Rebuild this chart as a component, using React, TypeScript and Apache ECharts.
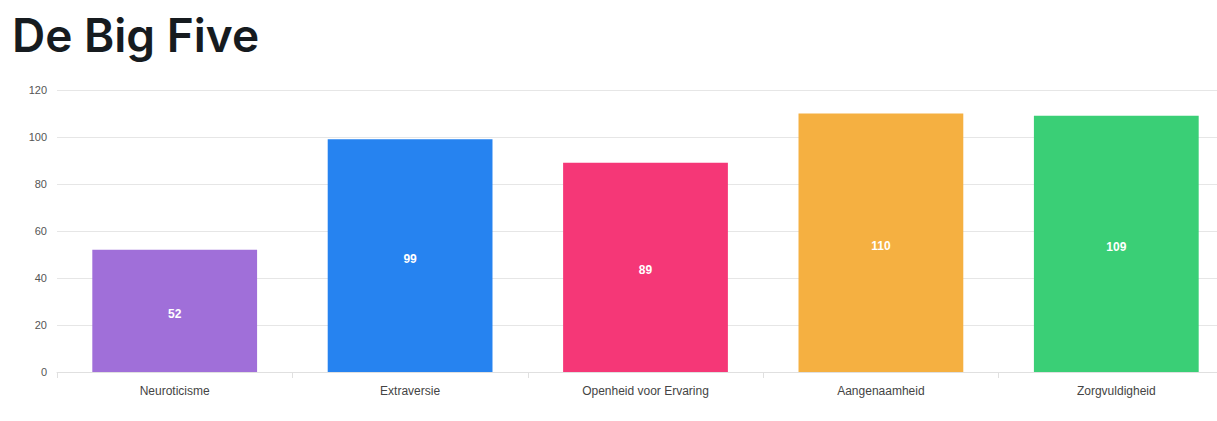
import React, { useEffect, useRef } from "react";
import * as echarts from "echarts";

const categories = ["Neuroticisme", "Extraversie", "Openheid voor Ervaring", "Aangenaamheid", "Zorgvuldigheid"];
const values = [52, 99, 89, 110, 109];
const barColors = ["#a06fd9", "#2683f0", "#f53777", "#f5b041", "#3acf76"];
const yTicks = { min: 0, max: 120, interval: 20 };
const titleText = "De Big Five";

export default function App() {
  const ref = useRef<HTMLDivElement>(null);
  useEffect(() => {
    if (!ref.current) return;
    const chart = echarts.init(ref.current, undefined, { renderer: "svg" });
    chart.setOption({
      animation: false,
      title: {
        text: titleText,
        left: 7,
        top: 7,
        textStyle: {
          fontFamily: "Inter",
          fontWeight: 600,
          fontSize: 46,
          color: "#161b1f",
        },
      },
      grid: { left: 57, right: 0, top: 90, bottom: 49 },
      xAxis: {
        type: "category",
        data: categories,
        axisLine: { lineStyle: { color: "#e0e0e0" } },
        axisTick: { show: true, length: 6, lineStyle: { color: "#e0e0e0" } },
        axisLabel: { color: "#444", fontSize: 12, fontFamily: "Liberation Sans, Arial", margin: 13 },
      },
      yAxis: {
        type: "value",
        min: yTicks.min,
        max: yTicks.max,
        interval: yTicks.interval,
        axisLine: { show: false },
        axisTick: { show: false },
        axisLabel: { color: "#555", fontSize: 11, fontFamily: "Liberation Sans, Arial", margin: 10 },
        splitLine: { lineStyle: { color: "#e6e6e6" } },
      },
      series: [
        {
          type: "bar",
          barWidth: "70%",
          data: values.map((v, i) => ({ value: v, itemStyle: { color: barColors[i] } })),
          label: {
            show: true,
            position: "inside",
            offset: [0, 3],
            color: "#fff",
            fontWeight: "bold",
            fontSize: 12,
            fontFamily: "Liberation Sans, Arial",
          },
        },
      ],
    });
    return () => chart.dispose();
  }, []);
  return (
    <div style={{ position: "absolute", left: 0, top: 0, width: 1217, height: 421, overflow: "hidden", background: "#fff" }}>
      <div ref={ref} style={{ width: 1234, height: 421 }} />
    </div>
  );
}
